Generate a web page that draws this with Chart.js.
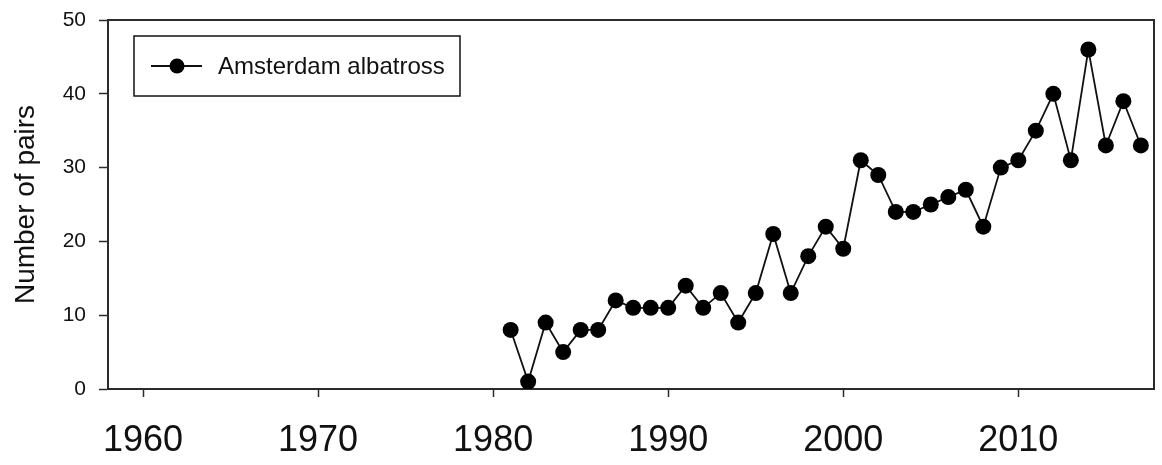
<!DOCTYPE html>
<html>
<head>
<meta charset="utf-8">
<script src="https://cdn.jsdelivr.net/npm/chart.js@4"></script>
<style>
  html, body { margin: 0; padding: 0; background: #fff; }
  #wrap { width: 1162px; height: 465px; }
</style>
</head>
<body>
<div id="wrap"><canvas id="chart" width="1162" height="465"></canvas></div>
<script>
// Amsterdam albatross breeding pairs
const years = [1981, 1982, 1983, 1984, 1985, 1986, 1987, 1988, 1989, 1990,
  1991, 1992, 1993, 1994, 1995, 1996, 1997, 1998, 1999, 2000,
  2001, 2002, 2003, 2004, 2005, 2006, 2007, 2008, 2009, 2010,
  2011, 2012, 2013, 2014, 2015, 2016, 2017];
const pairs = [8, 1, 9, 5, 8, 8, 12, 11, 11, 11,
  14, 11, 13, 9, 13, 21, 13, 18, 22, 19,
  31, 29, 24, 24, 25, 26, 27, 22, 30, 31,
  35, 40, 31, 46, 33, 39, 33];
const xTicks = [1960, 1970, 1980, 1990, 2000, 2010];
const yTicks = [0, 10, 20, 30, 40, 50];
const seriesName = 'Amsterdam albatross';
const yTitle = 'Number of pairs';

const FONT = "'Liberation Sans', Arial, sans-serif";
const AXIS = '#2b2b2b';

// top + right frame lines, like the SigmaPlot box
const framePlugin = {
  id: 'frame',
  afterDraw(chart) {
    const { ctx, chartArea: a } = chart;
    ctx.save();
    ctx.strokeStyle = AXIS;
    ctx.lineWidth = 2;
    ctx.beginPath();
    ctx.moveTo(a.left, a.top);
    ctx.lineTo(a.right, a.top);
    ctx.lineTo(a.right, a.bottom);
    ctx.stroke();
    ctx.restore();
  }
};

// boxed legend inside the plot area
const legendBox = {
  id: 'legendBox',
  afterDraw(chart) {
    const { ctx, chartArea: a } = chart;
    const x = a.left + 26, y = a.top + 16, w = 326, h = 60;
    ctx.save();
    ctx.strokeStyle = '#111';
    ctx.lineWidth = 1.5;
    ctx.strokeRect(x, y, w, h);
    const cy = y + h / 2;
    ctx.lineWidth = 1.8;
    ctx.beginPath();
    ctx.moveTo(x + 17, cy);
    ctx.lineTo(x + 68, cy);
    ctx.stroke();
    ctx.fillStyle = '#000';
    ctx.beginPath();
    ctx.arc(x + 43, cy, 7.5, 0, Math.PI * 2);
    ctx.fill();
    ctx.font = '24px ' + FONT;
    ctx.textBaseline = 'middle';
    ctx.fillStyle = '#111';
    ctx.fillText(seriesName, x + 84, cy + 1);
    ctx.restore();
  }
};

new Chart(document.getElementById('chart'), {
  type: 'line',
  data: {
    datasets: [{
      label: seriesName,
      data: years.map((yr, i) => ({ x: yr, y: pairs[i] })),
      borderColor: '#111',
      borderWidth: 1.8,
      pointRadius: 8,
      pointBackgroundColor: '#000',
      pointBorderColor: '#000',
      pointBorderWidth: 0,
      tension: 0,
    }],
  },
  options: {
    responsive: false,
    animation: false,
    layout: { padding: { top: 20, right: 5, left: 0, bottom: 0 } },
    plugins: {
      legend: { display: false },
      tooltip: { enabled: false },
    },
    scales: {
      x: {
        type: 'linear',
        min: 1958,
        max: 2017.75,
        afterBuildTicks: s => { s.ticks = xTicks.map(v => ({ value: v })); },
        afterFit: s => { s.height = 76; s.paddingLeft = 0; s.paddingRight = 0; },
        grid: { drawOnChartArea: false, tickLength: 8, tickColor: AXIS, tickWidth: 1.5 },
        border: { color: AXIS, width: 2 },
        ticks: {
          color: '#111',
          font: { family: FONT, size: 36 },
          padding: 22,
          maxRotation: 0,
          callback: v => String(v),
        },
      },
      y: {
        min: 0,
        max: 50,
        afterBuildTicks: s => { s.ticks = yTicks.map(v => ({ value: v })); },
        afterFit: s => { s.width = 108; s.paddingTop = 0; s.paddingBottom = 0; },
        grid: { drawOnChartArea: false, tickLength: 9, tickColor: AXIS, tickWidth: 1.5 },
        border: { color: AXIS, width: 2 },
        ticks: {
          color: '#111',
          font: { family: FONT, size: 21 },
          padding: 13,
        },
        title: {
          display: true,
          text: yTitle,
          color: '#111',
          font: { family: FONT, size: 28 },
          padding: { top: 9, bottom: 4 },
        },
      },
    },
  },
  plugins: [framePlugin, legendBox],
});
</script>
</body>
</html>
